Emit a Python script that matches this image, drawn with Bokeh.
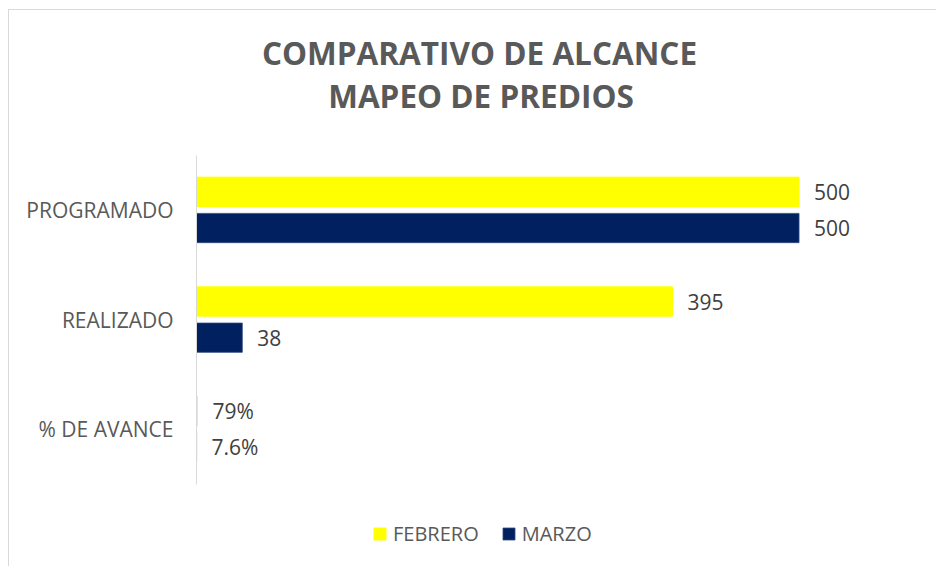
from bokeh.plotting import figure
from bokeh.models import ColumnDataSource, Range1d, Label, Legend, LegendItem, FixedTicker
from bokeh.transform import dodge
from bokeh.core.properties import value
from bokeh.embed import file_html
from bokeh.resources import INLINE

categories = ["PROGRAMADO", "REALIZADO", "% DE AVANCE"]
febrero = [500, 395, 0.79]
marzo = [500, 38, 0.076]
febrero_labels = ["500", "395", "79%"]
marzo_labels = ["500", "38", "7.6%"]
series_names = ["FEBRERO", "MARZO"]
title_lines = ["COMPARATIVO DE ALCANCE", "MAPEO DE PREDIOS"]

FONT = "Open Sans"
YELLOW = "#FFFF00"
NAVY = "#002060"

n = len(categories)
pos = [n - 0.5 - i for i in range(n)]  # first category at the top

src = ColumnDataSource(dict(cat=categories, pos=pos, feb=febrero, mar=marzo,
                            feb_lbl=febrero_labels, mar_lbl=marzo_labels))

p = figure(width=928, height=557,
           x_range=Range1d(0, 614.9), y_range=Range1d(-0.7605, 4.3185),
           output_backend="svg", toolbar_location=None,
           min_border_left=187, min_border_right=0, min_border_top=0, min_border_bottom=0)
p.styles = {"margin-left": "8px", "margin-top": "9px",
            "border-top": "1px solid #d9d9d9", "border-left": "1px solid #d9d9d9"}
p.outline_line_color = None
p.xgrid.visible = False
p.ygrid.visible = False
p.xaxis.visible = False

ya = p.yaxis[0]
ya.ticker = FixedTicker(ticks=pos)
ya.major_label_overrides = {pp: c for pp, c in zip(pos, categories)}
ya.bounds = (0, n)
ya.axis_line_color = "#d9d9d9"
ya.axis_line_width = 1
ya.major_tick_line_color = None
ya.minor_tick_line_color = None
ya.major_tick_out = 0
ya.major_tick_in = 0
ya.major_label_standoff = 23
ya.major_label_text_font = FONT
ya.major_label_text_font_size = "21px"
ya.major_label_text_color = "#595959"

off = 0.165
bh = 0.267
r1 = p.hbar(y=dodge("pos", off), right="feb", left=0, height=bh,
            fill_color=YELLOW, line_color=YELLOW, source=src)
r2 = p.hbar(y=dodge("pos", -off), right="mar", left=0, height=bh,
            fill_color=NAVY, line_color="#2f4a80", line_width=0.8, source=src)

common = dict(x_offset=15, text_font=value(FONT), text_font_size="21px",
              text_color="#404040", text_baseline="middle", text_align="left", source=src)
p.text(x="feb", y=dodge("pos", off), text="feb_lbl", **common)
p.text(x="mar", y=dodge("pos", -off), text="mar_lbl", **common)

for txt, xx, yy in zip(title_lines, [283, 284.5], [515, 472]):
    p.add_layout(Label(x=xx, y=yy, x_units="screen", y_units="screen", text=txt,
                       text_font=FONT, text_font_size="31.5px", text_font_style="bold",
                       text_color="#595959", text_align="center", text_baseline="middle"))

legend = Legend(items=[LegendItem(label=series_names[0], renderers=[r1]),
                       LegendItem(label=series_names[1], renderers=[r2])],
                orientation="horizontal", location=(176, 20),
                glyph_width=15, glyph_height=15, label_standoff=6, spacing=22,
                padding=0, margin=0, border_line_color=None, background_fill_alpha=0,
                label_text_font=FONT, label_text_font_size="20px", label_text_color="#595959")
p.add_layout(legend, "center")

open("out.html", "w").write(file_html(p, INLINE))
